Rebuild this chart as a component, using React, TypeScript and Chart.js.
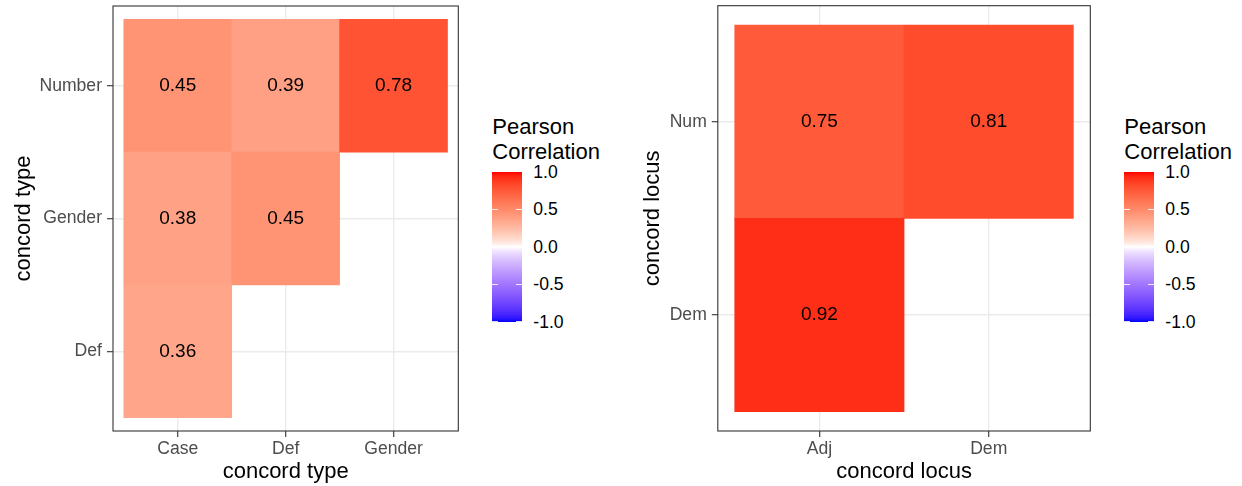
import React, { useEffect, useRef } from "react";
import { Chart, registerables } from "chart.js";

Chart.register(...registerables);

// ---------- data ----------
const typeCategoriesX = ["Case", "Def", "Gender"];
const typeCategoriesY = ["Def", "Gender", "Number"]; // bottom -> top
const typeCellX = ["Case", "Def", "Gender", "Case", "Def", "Case"];
const typeCellY = ["Number", "Number", "Number", "Gender", "Gender", "Def"];
const typeValues = [0.45, 0.39, 0.78, 0.38, 0.45, 0.36];

const locusCategoriesX = ["Adj", "Dem"];
const locusCategoriesY = ["Dem", "Num"]; // bottom -> top
const locusCellX = ["Adj", "Dem", "Adj"];
const locusCellY = ["Num", "Num", "Dem"];
const locusValues = [0.75, 0.81, 0.92];

const legendBreaks = [1.0, 0.5, 0.0, -0.5, -1.0];
const legendTitle = ["Pearson", "Correlation"];

// ---------- colour (Lab interpolation white -> red / blue) ----------
const FONT = '"Liberation Sans", Arial, Helvetica, sans-serif';

function toLin(c: number) {
  c /= 255;
  return c <= 0.04045 ? c / 12.92 : Math.pow((c + 0.055) / 1.055, 2.4);
}
function fromLin(c: number) {
  const v = c <= 0.0031308 ? 12.92 * c : 1.055 * Math.pow(c, 1 / 2.4) - 0.055;
  return Math.round(Math.min(1, Math.max(0, v)) * 255);
}
const Xn = 0.95047, Yn = 1.0, Zn = 1.08883;
function rgbToLab(rgb: number[]) {
  const [r, g, b] = rgb.map(toLin);
  const X = 0.4124564 * r + 0.3575761 * g + 0.1804375 * b;
  const Y = 0.2126729 * r + 0.7151522 * g + 0.072175 * b;
  const Z = 0.0193339 * r + 0.119192 * g + 0.9503041 * b;
  const f = (t: number) => (t > 0.008856 ? Math.cbrt(t) : 7.787 * t + 16 / 116);
  const fx = f(X / Xn), fy = f(Y / Yn), fz = f(Z / Zn);
  return [116 * fy - 16, 500 * (fx - fy), 200 * (fy - fz)];
}
function labToRgb(lab: number[]) {
  const [L, a, bb] = lab;
  const fy = (L + 16) / 116;
  const fx = fy + a / 500;
  const fz = fy - bb / 200;
  const inv = (t: number) => (t * t * t > 0.008856 ? t * t * t : (t - 16 / 116) / 7.787);
  const X = inv(fx) * Xn, Y = inv(fy) * Yn, Z = inv(fz) * Zn;
  const r = 3.2404542 * X - 1.5371385 * Y - 0.4985314 * Z;
  const g = -0.969266 * X + 1.8760108 * Y + 0.041556 * Z;
  const b = 0.0556434 * X - 0.2040259 * Y + 1.0572252 * Z;
  return [fromLin(r), fromLin(g), fromLin(b)];
}
const LAB_WHITE = rgbToLab([255, 255, 255]);
const LAB_RED = rgbToLab([255, 0, 0]);
const LAB_BLUE = rgbToLab([0, 0, 255]);
function fillColor(v: number) {
  const t = Math.pow(Math.min(1, Math.abs(v)), 0.75);
  const end = v >= 0 ? LAB_RED : LAB_BLUE;
  const lab = LAB_WHITE.map((w, i) => w + (end[i] - w) * t);
  const [r, g, b] = labToRgb(lab);
  return `rgb(${r},${g},${b})`;
}

// ---------- heatmap panel ----------
type PanelProps = {
  left: number;
  width: number;
  catsX: string[];
  catsY: string[];
  cellX: string[];
  cellY: string[];
  values: number[];
  axisWidth: number;
  padTop: number;
  padRight: number;
  xAxisHeight: number;
  xTitle: string;
  yTitle: string;
  yTitlePad: number;
};

function HeatPanel(p: PanelProps) {
  const ref = useRef<HTMLCanvasElement | null>(null);
  useEffect(() => {
    if (!ref.current) return;
    const points = p.values.map((v, i) => {
      const xi = p.catsX.indexOf(p.cellX[i]) + 1;
      const yi = p.catsY.indexOf(p.cellY[i]) + 1;
      return { x: xi, y: [yi - 0.5, yi + 0.5] };
    });
    const cellLabels = {
      id: "cellLabels",
      afterDatasetsDraw(chart: any) {
        const ctx = chart.ctx;
        const meta = chart.getDatasetMeta(0);
        ctx.save();
        ctx.font = `19px ${FONT}`;
        ctx.fillStyle = "#000000";
        ctx.textAlign = "center";
        ctx.textBaseline = "middle";
        meta.data.forEach((el: any, i: number) => {
          const q = el.getProps(["x", "y", "base"], true);
          ctx.fillText(p.values[i].toFixed(2), q.x, (q.y + q.base) / 2);
        });
        ctx.restore();
      },
    };
    const panelBorder = {
      id: "panelBorder",
      afterDatasetsDraw(chart: any) {
        const { ctx, chartArea } = chart;
        ctx.save();
        ctx.strokeStyle = "#333333";
        ctx.lineWidth = 1.1;
        ctx.strokeRect(chartArea.left, chartArea.top, chartArea.right - chartArea.left, chartArea.bottom - chartArea.top);
        ctx.restore();
      },
    };
    const tickFont = { family: FONT, size: 17.6 };
    const titleFont = { family: FONT, size: 22 };
    const grid = { color: "#EBEBEB", lineWidth: 1.4, tickColor: "#333333", tickLength: 6, tickWidth: 1.1, offset: false };
    const chart = new Chart(ref.current, {
      type: "bar",
      data: {
        datasets: [
          {
            data: points as any,
            backgroundColor: p.values.map(fillColor),
            borderWidth: 0,
            barPercentage: 1,
            categoryPercentage: 1,
          },
        ],
      },
      options: {
        responsive: false,
        maintainAspectRatio: false,
        animation: false,
        events: [],
        layout: { padding: { left: 0, top: p.padTop, right: p.padRight, bottom: 0 } },
        plugins: { legend: { display: false }, tooltip: { enabled: false } },
        scales: {
          x: {
            type: "linear",
            offset: false,
            min: 0.4,
            max: p.catsX.length + 0.6,
            bounds: "data",
            afterBuildTicks: (s: any) => {
              s.ticks = p.catsX.map((_, i) => ({ value: i + 1 }));
            },
            afterFit: (s: any) => {
              s.height = p.xAxisHeight;
              s.paddingLeft = 0;
              s.paddingRight = 0;
            },
            ticks: {
              autoSkip: false,
              maxRotation: 0,
              padding: 1.5,
              color: "#4D4D4D",
              font: tickFont,
              callback: (v: any) => p.catsX[Math.round(Number(v)) - 1] ?? "",
            },
            grid,
            border: { display: false },
            title: { display: true, text: p.xTitle, color: "#000000", font: titleFont, padding: { top: 0, bottom: 1 } },
          },
          y: {
            type: "linear",
            offset: false,
            min: 0.4,
            max: p.catsY.length + 0.6,
            bounds: "data",
            afterBuildTicks: (s: any) => {
              s.ticks = p.catsY.map((_, i) => ({ value: i + 1 }));
            },
            afterFit: (s: any) => {
              s.width = p.axisWidth;
              s.paddingTop = 0;
              s.paddingBottom = 0;
            },
            ticks: {
              autoSkip: false,
              padding: 5,
              color: "#4D4D4D",
              font: tickFont,
              callback: (v: any) => p.catsY[Math.round(Number(v)) - 1] ?? "",
            },
            grid,
            border: { display: false },
            title: { display: true, text: p.yTitle, color: "#000000", font: titleFont, padding: { top: p.yTitlePad, bottom: 0 } },
          },
        },
      } as any,
      plugins: [cellLabels, panelBorder],
    });
    return () => chart.destroy();
  }, []);
  return (
    <canvas
      ref={ref}
      width={p.width}
      height={486}
      style={{ position: "absolute", left: p.left, top: 0, width: p.width, height: 486 }}
    />
  );
}

// ---------- colourbar legend ----------
function ColorLegend({ left }: { left: number }) {
  const barTop = 171.7;
  const barH = 150;
  const barW = 30;
  const stops: string[] = [];
  for (let i = 0; i <= 40; i++) {
    const v = 1 - i / 20;
    stops.push(`${fillColor(v)} ${(i / 40) * 100}%`);
  }
  const yOf = (v: number) => barTop + ((1 - v) / 2) * barH;
  return (
    <div style={{ position: "absolute", left: 0, top: 0, fontFamily: FONT }}>
      <div
        style={{
          position: "absolute",
          left,
          top: 113.6,
          fontSize: 22,
          lineHeight: "25px",
          color: "#000",
          whiteSpace: "nowrap",
        }}
      >
        {legendTitle.map((t) => (
          <div key={t}>{t}</div>
        ))}
      </div>
      <div
        style={{
          position: "absolute",
          left,
          top: barTop,
          width: barW,
          height: barH,
          background: `linear-gradient(to bottom, ${stops.join(", ")})`,
        }}
      />
      {legendBreaks.map((v) => (
        <React.Fragment key={v}>
          <div style={{ position: "absolute", left, top: yOf(v) - 0.5, width: 6, height: 1, background: "rgba(255,255,255,0.85)" }} />
          <div style={{ position: "absolute", left: left + barW - 6, top: yOf(v) - 0.5, width: 6, height: 1, background: "rgba(255,255,255,0.85)" }} />
          <div
            style={{
              position: "absolute",
              left: left + 41,
              top: yOf(v) - 11,
              height: 22,
              lineHeight: "22px",
              fontSize: 17.6,
              color: "#000",
              whiteSpace: "nowrap",
            }}
          >
            {v.toFixed(1)}
          </div>
        </React.Fragment>
      ))}
    </div>
  );
}

export default function App() {
  return (
    <div style={{ position: "absolute", left: 0, top: 0, width: 1242, height: 486, background: "#ffffff", overflow: "hidden" }}>
      <HeatPanel
        left={0}
        width={480}
        catsX={typeCategoriesX}
        catsY={typeCategoriesY}
        cellX={typeCellX}
        cellY={typeCellY}
        values={typeValues}
        axisWidth={113}
        padTop={6}
        padRight={480 - 458.3}
        xAxisHeight={55}
        xTitle="concord type"
        yTitle="concord type"
        yTitlePad={11}
      />
      <ColorLegend left={492.3} />
      <HeatPanel
        left={600}
        width={500}
        catsX={locusCategoriesX}
        catsY={locusCategoriesY}
        cellX={locusCellX}
        cellY={locusCellY}
        values={locusValues}
        axisWidth={117.8}
        padTop={5.7}
        padRight={500 - 490.3}
        xAxisHeight={55}
        xTitle="concord locus"
        yTitle="concord locus"
        yTitlePad={39.3}
      />
      <ColorLegend left={1124.3} />
    </div>
  );
}
